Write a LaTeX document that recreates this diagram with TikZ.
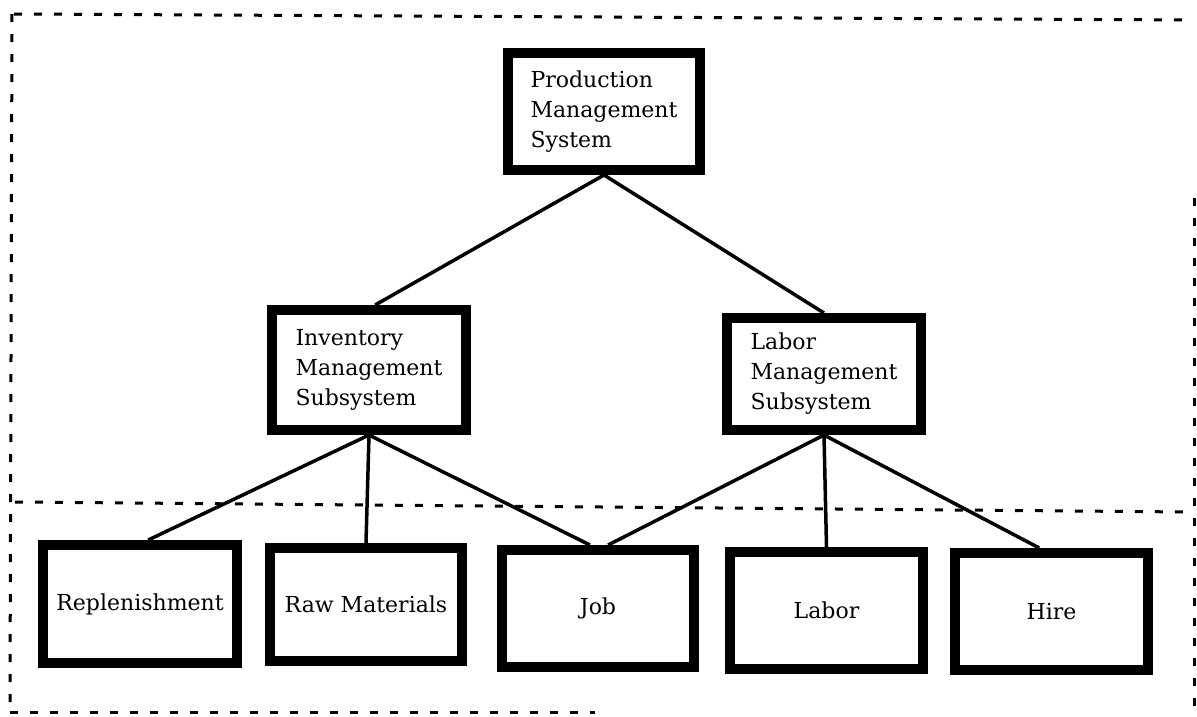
\documentclass[tikz,border=0pt]{standalone}
\usepackage{fontspec}
\setmainfont{DejaVu Serif}
\usetikzlibrary{calc}
\begin{document}
\begin{tikzpicture}[x=1pt,y=-1pt,
  box/.style={draw=black, line width=10pt, rectangle, inner sep=0pt, font=\fontsize{22}{30}\selectfont, align=left},
  conn/.style={draw=black, line width=3.5pt},
  frame/.style={draw=black, line width=3pt, dash pattern=on 8pt off 12pt}]
\useasboundingbox (0,0) rectangle (1197,716);
% dashed frames
\draw[frame] (14,14) -- (1192,20);
\draw[frame] (12,14) -- (10,702);
\draw[frame] (10,712) -- (595,712);
\draw[frame] (1194,198) -- (1194,716);
\draw[frame] (15,502) -- (1190,512);
% boxes
\node[box, minimum width=192pt, minimum height=117pt] (prod) at (604,111.5) {Production\\Management\\System};
\node[box, minimum width=194pt, minimum height=120pt] (inv) at (369,370) {Inventory\\Management\\Subsystem};
\node[box, minimum width=194pt, minimum height=112pt] (lab) at (824,374) {Labor\\Management\\Subsystem};
\node[box, minimum width=194pt, minimum height=118pt] (rep) at (140,604) {Replenishment};
\node[box, minimum width=192pt, minimum height=113pt] (raw) at (366,604.5) {Raw Materials};
\node[box, minimum width=192pt, minimum height=117pt] (job) at (598,608.5) {Job};
\node[box, minimum width=193pt, minimum height=117pt] (labor) at (826.5,610.5) {Labor};
\node[box, minimum width=193pt, minimum height=117pt] (hire) at (1051.5,611.5) {Hire};
% connectors
\draw[conn] (prod.south) -- ($(inv.north west)!0.53!(inv.north east)$);
\draw[conn] (prod.south) -- (lab.north);
\draw[conn] (inv.south) -- ($(rep.north west)!0.54!(rep.north east)$);
\draw[conn] (inv.south) -- (raw.north);
\draw[conn] (inv.south) -- ($(job.north west)!0.46!(job.north east)$);
\draw[conn] (lab.south) -- ($(job.north west)!0.55!(job.north east)$);
\draw[conn] (lab.south) -- (labor.north);
\draw[conn] (lab.south) -- ($(hire.north west)!0.44!(hire.north east)$);
\end{tikzpicture}
\end{document}
